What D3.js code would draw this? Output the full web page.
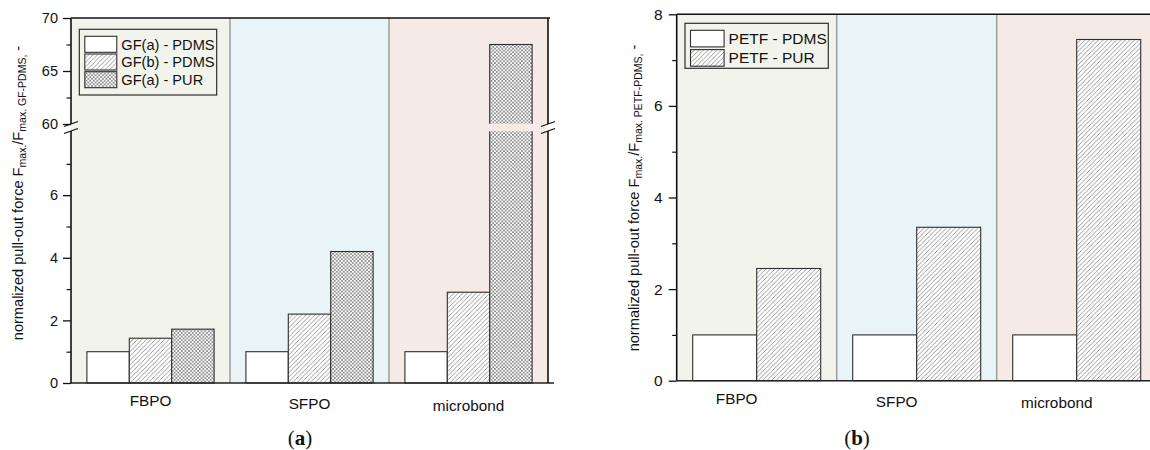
<!DOCTYPE html>
<html>
<head>
<meta charset="utf-8">
<script src="https://cdn.jsdelivr.net/npm/d3@7"></script>
<style>
body { margin: 0; background: #fff; }
text { font-family: "Liberation Sans", Arial, sans-serif; fill: #111; }
</style>
</head>
<body>
<svg id="chart" width="1150" height="450"></svg>
<script>
// values
var categories = ["FBPO", "SFPO", "microbond"];

var seriesA = ["GF(a) - PDMS", "GF(b) - PDMS", "GF(a) - PUR"];
var gfaPdms = [1, 1, 1];
var gfbPdms = [1.43, 2.2, 2.9];
var gfaPur = [1.72, 4.2, 67.5];

var seriesB = ["PETF - PDMS", "PETF - PUR"];
var petfPdms = [1, 1, 1];
var petfPur = [2.45, 3.35, 7.45];

// tick labels
var lowTicksA = [0, 2, 4, 6];
var lowMinorA = [1, 3, 5, 7];
var upTicksA = [60, 65, 70];
var upMinorA = [62.5, 67.5];
var ticksB = [0, 2, 4, 6, 8];
var minorB = [1, 3, 5, 7];

// ---- styles ----
var bgColors = ["#f2f4ec", "#e8f4f7", "#f6eae7"];
var fills = ["#fff", "url(#hatch)", "url(#cross)"];
var labelDy = [23, 26, 27.5];

var svg = d3.select("#chart");
var defs = svg.append("defs");

// diagonal hatch
var hatch = defs.append("pattern").attr("id", "hatch")
    .attr("patternUnits", "userSpaceOnUse").attr("width", 4.5).attr("height", 4.5);
hatch.append("rect").attr("width", 4.5).attr("height", 4.5).attr("fill", "#fff");
hatch.append("path").attr("d", "M-1,1 L1,-1 M0,4.5 L4.5,0 M3.5,5.5 L5.5,3.5")
    .attr("stroke", "#707070").attr("stroke-width", 0.7);

// cross hatch (fine checker look)
var cross = defs.append("pattern").attr("id", "cross")
    .attr("patternUnits", "userSpaceOnUse").attr("width", 3.6).attr("height", 3.6);
cross.append("rect").attr("width", 3.6).attr("height", 3.6).attr("fill", "#fff");
cross.append("path").attr("d", "M0,3.6 L3.6,0 M0,0 L3.6,3.6 M-1,1 L1,-1 M2.6,4.6 L4.6,2.6 M-1,2.6 L1,4.6 M2.6,-1 L4.6,1")
    .attr("stroke", "#5a5a5a").attr("stroke-width", 0.6);

// ---- scales ----
var xA = d3.scaleBand().domain(categories).range([71, 548]);
var yLowA = d3.scaleLinear().domain([0, 8.05]).range([383, 131]);
var yUpA = d3.scaleLinear().domain([60, 70]).range([124, 18]);
function yA(v) { return v <= yLowA.domain()[1] ? yLowA(v) : yUpA(v); }

var xB = d3.scaleBand().domain(categories).range([676.7, 1156.7]);
var yB = d3.scaleLinear().domain([0, 8]).range([380.7, 14.3]);

function drawPanel(p) {
    var g = svg.append("g");
    var x = p.x, bw = x.bandwidth();
    var left = x.range()[0], right = x.range()[1];

    // coloured category bands
    g.selectAll("rect.bg").data(categories).enter().append("rect")
        .attr("x", function (d) { return x(d); })
        .attr("y", p.top)
        .attr("width", bw)
        .attr("height", p.zero - p.top)
        .attr("fill", function (d, i) { return bgColors[i]; });

    g.selectAll("line.sep").data(categories.slice(1)).enter().append("line")
        .attr("x1", function (d) { return x(d); }).attr("x2", function (d) { return x(d); })
        .attr("y1", p.top).attr("y2", p.zero)
        .attr("stroke", "#9c9c9c").attr("stroke-width", 1.5);

    // bars
    var x1 = d3.scaleBand().domain(d3.range(p.series.length)).range([0.1 * bw, 0.9 * bw]);
    var rows = [];
    categories.forEach(function (c, i) {
        p.values.forEach(function (vals, j) {
            rows.push({ cat: c, ci: i, s: j, v: vals[i] });
        });
    });
    g.selectAll("rect.bar").data(rows).enter().append("rect")
        .attr("x", function (d) { return x(d.cat) + x1(d.s); })
        .attr("y", function (d) { return p.y(d.v); })
        .attr("width", x1.bandwidth())
        .attr("height", function (d) { return p.zero - p.y(d.v); })
        .attr("fill", function (d) { return fills[d.s]; })
        .attr("stroke", "#2e2e2e").attr("stroke-width", 1.1);

    // axis frame
    g.append("line").attr("x1", left).attr("x2", right + 2).attr("y1", p.top).attr("y2", p.top)
        .attr("stroke", "#111").attr("stroke-width", 1.6);
    g.append("line").attr("x1", left).attr("x2", right + 6).attr("y1", p.zero).attr("y2", p.zero)
        .attr("stroke", "#222").attr("stroke-width", 1.4);
    g.append("line").attr("x1", right).attr("x2", right).attr("y1", p.top).attr("y2", p.zero)
        .attr("stroke", "#111").attr("stroke-width", 1.6);

    // category labels
    g.selectAll("text.cat").data(categories).enter().append("text")
        .attr("x", function (d) { return x(d) + bw / 2 + p.labelShift; })
        .attr("y", function (d, i) { return p.zero + labelDy[i]; })
        .attr("text-anchor", "middle")
        .attr("font-size", 15.3)
        .text(function (d) { return d; });

    // legend
    var lg = g.append("g");
    lg.append("rect").attr("x", p.legend.x).attr("y", p.legend.y)
        .attr("width", p.legend.w).attr("height", p.legend.h)
        .attr("fill", "none").attr("stroke", "#2e2e2e").attr("stroke-width", 1.2);
    var items = lg.selectAll("g.item").data(p.series).enter().append("g")
        .attr("transform", function (d, i) {
            return "translate(" + (p.legend.x + 5.5) + "," + (p.legend.y + 7 + i * p.legend.step) + ")";
        });
    items.append("rect").attr("width", p.legend.sw).attr("height", p.legend.sh)
        .attr("fill", function (d, i) { return fills[i]; })
        .attr("stroke", "#2e2e2e").attr("stroke-width", 1.1);
    items.append("text").attr("x", p.legend.sw + 4.5).attr("y", p.legend.sh / 2)
        .attr("dy", "0.36em").attr("font-size", p.legend.fs)
        .text(function (d) { return d; });

    // y label with subscripts
    var t = g.append("text")
        .attr("transform", "translate(" + p.ylabX + "," + p.ylabY + ") rotate(-90)")
        .attr("text-anchor", "middle").attr("font-size", 14.6);
    t.append("tspan").text("normalized pull-out force F");
    t.append("tspan").attr("font-size", 10.5).attr("baseline-shift", "-3").text("max.");
    t.append("tspan").text("/F");
    t.append("tspan").attr("font-size", 10.5).attr("baseline-shift", "-3").text("max. " + p.subRef + ",");
    t.append("tspan").text(" -");

    // caption
    var cap = g.append("text").attr("x", p.capX).attr("y", 445)
        .attr("text-anchor", "middle").attr("font-size", 21)
        .style("font-family", "'Liberation Serif', 'DejaVu Serif', serif");
    cap.append("tspan").text("(");
    cap.append("tspan").attr("font-weight", "bold").text(p.cap);
    cap.append("tspan").text(")");

    return g;
}

function yAxis(g, left, scale, major, minor, pad, fs) {
    var ax = g.append("g").attr("transform", "translate(" + left + ",0)")
        .call(d3.axisLeft(scale).tickValues(major).tickSize(8).tickPadding(pad));
    ax.select(".domain").remove();
    ax.selectAll("text").attr("font-size", fs).style("fill", "#111").attr("font-family", null);
    ax.selectAll("line").attr("stroke", "#111").attr("stroke-width", 1.3);
    var mn = g.append("g").attr("transform", "translate(" + left + ",0)")
        .call(d3.axisLeft(scale).tickValues(minor).tickSize(4.5).tickFormat(""));
    mn.select(".domain").remove();
    mn.selectAll("line").attr("stroke", "#111").attr("stroke-width", 1.2);
}

// ---- panel (a) ----
var gA = drawPanel({
    x: xA, y: yA, top: 18, zero: 383, labelShift: 0,
    series: seriesA, values: [gfaPdms, gfbPdms, gfaPur],
    legend: { x: 79.3, y: 29.3, w: 137.4, h: 65.7, step: 17.7, sw: 32, sh: 16, fs: 14.6 },
    ylabX: 23, ylabY: 193, subRef: "GF-PDMS", capX: 300, cap: "a"
});

// break: gap through the tall bar and the right frame
var gapTop = yUpA(60), gapBot = yLowA(yLowA.domain()[1]);
var bwA = xA.bandwidth();
var x1A = d3.scaleBand().domain(d3.range(seriesA.length)).range([0.1 * bwA, 0.9 * bwA]);
var broken = [];
[gfaPdms, gfbPdms, gfaPur].forEach(function (vals, j) {
    vals.forEach(function (v, i) { if (v > yLowA.domain()[1]) broken.push({ ci: i, s: j }); });
});
gA.selectAll("rect.gap").data(broken).enter().append("rect")
    .attr("x", function (d) { return xA(categories[d.ci]) + x1A(d.s) - 1; })
    .attr("y", gapTop - 0.3)
    .attr("width", x1A.bandwidth() + 2)
    .attr("height", gapBot - gapTop + 0.6)
    .attr("fill", function (d) { return bgColors[d.ci]; });
gA.append("rect").attr("x", 545).attr("y", gapTop).attr("width", 6).attr("height", gapBot - gapTop)
    .attr("fill", "#fff");

// left axis line in two pieces
gA.append("line").attr("x1", 71).attr("x2", 71).attr("y1", 18).attr("y2", gapTop)
    .attr("stroke", "#111").attr("stroke-width", 1.6);
gA.append("line").attr("x1", 71).attr("x2", 71).attr("y1", gapBot).attr("y2", 383)
    .attr("stroke", "#111").attr("stroke-width", 1.6);

// break slashes
[71, 548].forEach(function (cx) {
    gA.append("line").attr("x1", cx - 7).attr("y1", gapTop + 2.5).attr("x2", cx + 7).attr("y2", gapTop - 2.5)
        .attr("stroke", "#111").attr("stroke-width", 1.3);
    gA.append("line").attr("x1", cx - 7).attr("y1", gapBot + 2.5).attr("x2", cx + 7).attr("y2", gapBot - 2.5)
        .attr("stroke", "#111").attr("stroke-width", 1.3);
});

yAxis(gA, 71, yLowA, lowTicksA, lowMinorA, 5, 14.5);
yAxis(gA, 71, yUpA, upTicksA, upMinorA, 5, 14.5);

// ---- panel (b) ----
var gB = drawPanel({
    x: xB, y: yB, top: 14.3, zero: 380.7, labelShift: -20,
    series: seriesB, values: [petfPdms, petfPur],
    legend: { x: 685, y: 23.3, w: 143.3, h: 45, step: 19.3, sw: 33.6, sh: 16.6, fs: 15.5 },
    ylabX: 639, ylabY: 198, subRef: "PETF-PDMS", capX: 857, cap: "b"
});
gB.append("line").attr("x1", 676.7).attr("x2", 676.7).attr("y1", 14.3).attr("y2", 380.7)
    .attr("stroke", "#111").attr("stroke-width", 1.6);
yAxis(gB, 676.7, yB, ticksB, minorB, 6, 15.5);
</script>
</body>
</html>
